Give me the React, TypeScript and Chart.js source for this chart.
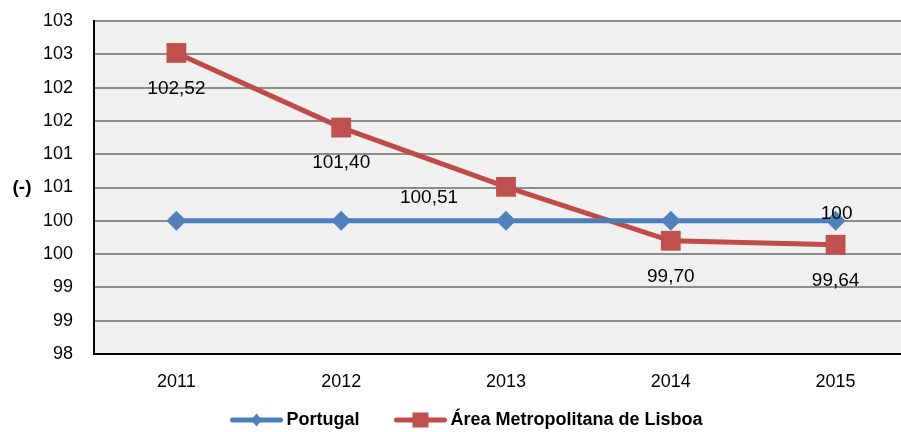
import React, { useEffect, useRef } from 'react';
import { Chart, registerables } from 'chart.js';

Chart.register(...registerables);

// ---- data ----
const categories = ['2011', '2012', '2013', '2014', '2015'];
const portugalValues = [100, 100, 100, 100, 100];
const lisboaValues = [102.52, 101.4, 100.51, 99.7, 99.64];
const seriesNames = ['Portugal', 'Área Metropolitana de Lisboa'];
const yMin = 98;
const yMax = 103;
const yStep = 0.5;
const yAxisTitle = '(-)';
// which data labels are shown
const portugalLabelShown = [false, false, false, false, true];
const lisboaLabelShown = [true, true, true, true, true];

// ---- styles ----
const FONT = 'Liberation Sans';
const BLUE_LINE = '#4a7ebb';
const BLUE_MARK = '#4f81bd';
const RED_LINE = '#be4b48';
const RED_MARK = '#c0504d';
const lisboaLabelOffsets = [[0, 36], [0, 35], [-77, 11], [0, 36], [0, 36]];
const portugalLabelOffsets = [[0, 0], [0, 0], [0, 0], [0, 0], [1, -7]];

const fmt = (v: number) => (Number.isInteger(v) ? String(v) : v.toFixed(2).replace('.', ','));

const extrasPlugin = {
  id: 'extras',
  beforeDraw(chart: any) {
    const { ctx, chartArea } = chart;
    ctx.save();
    ctx.fillStyle = '#f0f0f0';
    ctx.fillRect(chartArea.left, chartArea.top, chartArea.right - chartArea.left, chartArea.bottom - chartArea.top);
    ctx.restore();
  },
  afterDatasetsDraw(chart: any) {
    const { ctx } = chart;
    ctx.save();
    ctx.font = `19px "${FONT}"`;
    ctx.fillStyle = '#000';
    ctx.textAlign = 'center';
    ctx.textBaseline = 'middle';
    const m0 = chart.getDatasetMeta(0);
    const m1 = chart.getDatasetMeta(1);
    portugalValues.forEach((v, i) => {
      if (!portugalLabelShown[i]) return;
      const el = m0.data[i];
      const [dx, dy] = portugalLabelOffsets[i];
      ctx.fillText(fmt(v), el.x + dx, el.y + dy);
    });
    lisboaValues.forEach((v, i) => {
      if (!lisboaLabelShown[i]) return;
      const el = m1.data[i];
      const [dx, dy] = lisboaLabelOffsets[i];
      ctx.fillText(fmt(v), el.x + dx, el.y + dy);
    });
    ctx.restore();
  },
  afterDraw(chart: any) {
    const { ctx } = chart;
    ctx.save();
    // y axis title (horizontal)
    ctx.font = `bold 19px "${FONT}"`;
    ctx.fillStyle = '#000';
    ctx.textAlign = 'center';
    ctx.textBaseline = 'middle';
    ctx.fillText(yAxisTitle, 22, 188);

    // legend
    ctx.font = `bold 18px "${FONT}"`;
    const lineLen = 52;
    const gapText = 4;
    const gapItems = 35;
    const w0 = ctx.measureText(seriesNames[0]).width;
    const w1 = ctx.measureText(seriesNames[1]).width;
    const total = lineLen + gapText + w0 + gapItems + lineLen + gapText + w1;
    let x = 466.5 - total / 2;
    const y = 420;
    const drawItem = (name: string, w: number, lineColor: string, markColor: string, shape: string) => {
      ctx.strokeStyle = lineColor;
      ctx.lineWidth = 5;
      ctx.lineCap = 'round';
      ctx.beginPath();
      ctx.moveTo(x + 2, y);
      ctx.lineTo(x + lineLen - 2, y);
      ctx.stroke();
      const cx = x + lineLen / 2;
      ctx.fillStyle = markColor;
      ctx.beginPath();
      if (shape === 'diamond') {
        ctx.moveTo(cx, y - 6.5);
        ctx.lineTo(cx + 5.5, y);
        ctx.lineTo(cx, y + 6.5);
        ctx.lineTo(cx - 5.5, y);
        ctx.closePath();
        ctx.fill();
      } else {
        ctx.fillRect(cx - 8, y - 7.5, 16, 15);
      }
      ctx.fillStyle = '#000';
      ctx.textAlign = 'left';
      ctx.fillText(name, x + lineLen + gapText, y);
      x += lineLen + gapText + w + gapItems;
    };
    drawItem(seriesNames[0], w0, BLUE_LINE, BLUE_MARK, 'diamond');
    drawItem(seriesNames[1], w1, RED_LINE, RED_MARK, 'square');
    ctx.restore();
  },
};

export default function App() {
  const ref = useRef<HTMLCanvasElement | null>(null);
  useEffect(() => {
    if (!ref.current) return;
    const chart = new Chart(ref.current, {
      type: 'line',
      data: {
        labels: categories,
        datasets: [
          {
            label: seriesNames[0],
            data: portugalValues,
            borderColor: BLUE_LINE,
            backgroundColor: BLUE_MARK,
            borderWidth: 5,
            pointStyle: 'rectRot',
            pointRadius: 10,
            pointHoverRadius: 10,
            pointBorderWidth: 0,
            pointBackgroundColor: BLUE_MARK,
            tension: 0,
          },
          {
            label: seriesNames[1],
            data: lisboaValues,
            borderColor: RED_LINE,
            backgroundColor: RED_MARK,
            borderWidth: 5,
            pointStyle: 'rect',
            pointRadius: 14,
            pointHoverRadius: 14,
            pointBorderWidth: 0,
            pointBackgroundColor: RED_MARK,
            tension: 0,
          },
        ],
      },
      options: {
        animation: false,
        responsive: false,
        devicePixelRatio: 1,
        events: [],
        font: { family: FONT, size: 18 },
        layout: { autoPadding: false, padding: { top: 21, right: 0, bottom: 0, left: 0 } },
        plugins: {
          legend: { display: false },
          tooltip: { enabled: false },
        },
        scales: {
          x: {
            offset: true,
            grid: { display: false, drawTicks: false },
            border: { display: true, color: '#000', width: 2 },
            ticks: { color: '#000', padding: 17, font: { family: FONT, size: 18 } },
            afterFit: (s: any) => {
              s.height = 78;
              s.paddingLeft = 0;
              s.paddingRight = 0;
            },
          },
          y: {
            min: yMin,
            max: yMax,
            grid: {
              drawTicks: false,
              lineWidth: 2,
              color: (c: any) => (c.tick && c.tick.value === yMin ? 'rgba(0,0,0,0)' : '#8c8c8c'),
            },
            border: { display: true, color: '#000', width: 2 },
            ticks: {
              stepSize: yStep,
              color: '#000',
              padding: 21,
              font: { family: FONT, size: 18 },
              callback: (v: any) => String(Math.round(Number(v))),
            },
            afterFit: (s: any) => {
              s.width = 94;
              s.paddingTop = 0;
              s.paddingBottom = 0;
            },
          },
        },
      },
      plugins: [extrasPlugin],
    });
    return () => chart.destroy();
  }, []);

  return (
    <div style={{ position: 'fixed', left: 0, top: 0, width: 901, height: 432, overflow: 'hidden', background: '#fff' }}>
      <canvas ref={ref} width={918} height={432} style={{ width: 918, height: 432, display: 'block' }} />
    </div>
  );
}
